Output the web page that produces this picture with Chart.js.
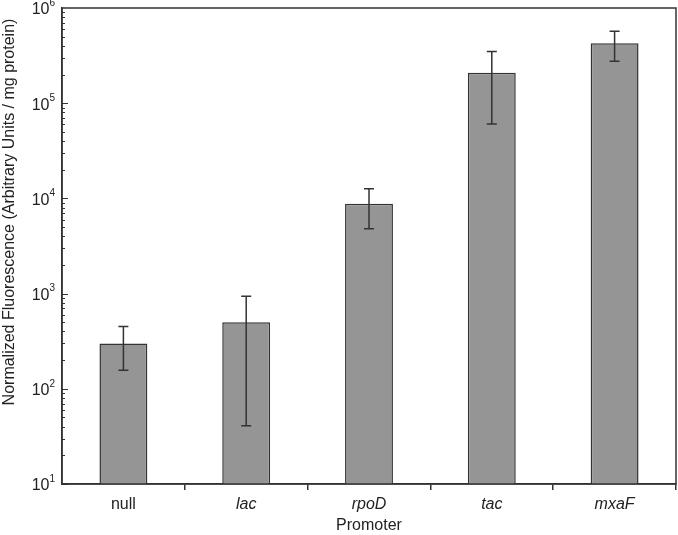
<!DOCTYPE html>
<html>
<head>
<meta charset="utf-8">
<script src="https://cdn.jsdelivr.net/npm/chart.js@4/dist/chart.umd.min.js"></script>
<style>
  html, body { margin: 0; padding: 0; background: #fff; }
  #wrap { width: 678px; height: 535px; }
</style>
</head>
<body>
<div id="wrap"><canvas id="chart" width="678" height="535"></canvas></div>
<script>
const promoters = ["null", "lac", "rpoD", "tac", "mxaF"];
const fluorescence = [300, 500, 8800, 209000, 426000];
const errLow = [157, 41, 4800, 60500, 276000];
const errHigh = [450, 940, 12600, 350000, 569000];
const yTicks = [10, 100, 1000, 10000, 100000, 1000000];
const yExponents = ["1", "2", "3", "4", "5", "6"];
const yTitle = "Normalized Fluorescence (Arbitrary Units / mg protein)";

const ink = "#333";
const textColor = "#222";
const family = "'Liberation Sans', Arial, sans-serif";

// error bars, frame, inward y ticks, 10^n labels and y title
const extras = {
    id: "extras",
    afterDatasetsDraw(chart) {
        const ctx = chart.ctx;
        const y = chart.scales.y;
        const meta = chart.getDatasetMeta(0);
        const area = chart.chartArea;
        ctx.save();
        ctx.strokeStyle = ink;
        ctx.lineWidth = 1.5;
        meta.data.forEach((bar, i) => {
            const top = y.getPixelForValue(errHigh[i]);
            const bot = y.getPixelForValue(errLow[i]);
            ctx.beginPath();
            ctx.moveTo(bar.x, top); ctx.lineTo(bar.x, bot);
            ctx.moveTo(bar.x - 5, top); ctx.lineTo(bar.x + 5, top);
            ctx.moveTo(bar.x - 5, bot); ctx.lineTo(bar.x + 5, bot);
            ctx.stroke();
        });

        ctx.lineWidth = 1;
        for (let d = 10; d < 1000000; d *= 10) {
            for (let m = 1; m <= 9; m++) {
                const py = Math.round(y.getPixelForValue(d * m)) + 0.5;
                const len = m === 1 ? 6 : 3;
                ctx.beginPath();
                ctx.moveTo(area.left, py); ctx.lineTo(area.left + len, py);
                ctx.stroke();
            }
        }

        ctx.lineWidth = 1.5;
        ctx.strokeRect(area.left, area.top, area.right - area.left, area.bottom - area.top);

        ctx.fillStyle = textColor;
        ctx.textBaseline = "middle";
        yTicks.forEach((v, i) => {
            const py = y.getPixelForValue(v);
            const right = area.left - 7;
            ctx.font = "10px " + family;
            const ew = ctx.measureText(yExponents[i]).width;
            ctx.textAlign = "left";
            ctx.fillText(yExponents[i], right - ew, py - 5);
            ctx.font = "16px " + family;
            ctx.textAlign = "right";
            ctx.fillText("10", right - ew, py + 2);
        });

        ctx.translate(10, 212);
        ctx.rotate(-Math.PI / 2);
        ctx.textAlign = "center";
        ctx.font = "16px " + family;
        ctx.fillText(yTitle, 0, 0);
        ctx.restore();
    }
};

new Chart(document.getElementById("chart"), {
    type: "bar",
    data: {
        labels: promoters,
        datasets: [{
            data: fluorescence,
            backgroundColor: "#959595",
            borderColor: ink,
            borderWidth: 1.5,
            barPercentage: 0.39,
            categoryPercentage: 1.0
        }]
    },
    options: {
        responsive: false,
        animation: false,
        layout: { padding: { top: 8, right: 2, left: 0, bottom: 0 } },
        plugins: {
            legend: { display: false },
            tooltip: { enabled: false }
        },
        scales: {
            x: {
                grid: {
                    offset: true,
                    drawOnChartArea: false,
                    tickLength: 6,
                    color: ctx => (ctx.index === 0 || ctx.index === promoters.length ? "rgba(0,0,0,0)" : ink),
                    lineWidth: 1.5
                },
                border: { color: ink, width: 1.5 },
                ticks: {
                    color: textColor,
                    padding: 5,
                    font: ctx => ({
                        family: family,
                        size: 16,
                        style: ctx.index > 0 ? "italic" : "normal"
                    })
                },
                title: {
                    display: true,
                    text: "Promoter",
                    color: textColor,
                    padding: { top: 3, bottom: 0 },
                    font: { family: family, size: 16 }
                },
                afterFit: s => { s.height = 51; }
            },
            y: {
                type: "logarithmic",
                min: 10,
                max: 1000000,
                afterBuildTicks: s => { s.ticks = yTicks.map(v => ({ value: v })); },
                grid: { display: false },
                border: { color: ink, width: 1.5 },
                ticks: { display: false },
                title: { display: false, text: yTitle },
                afterFit: s => { s.width = 62; }
            }
        }
    },
    plugins: [extras]
});
</script>
</body>
</html>
